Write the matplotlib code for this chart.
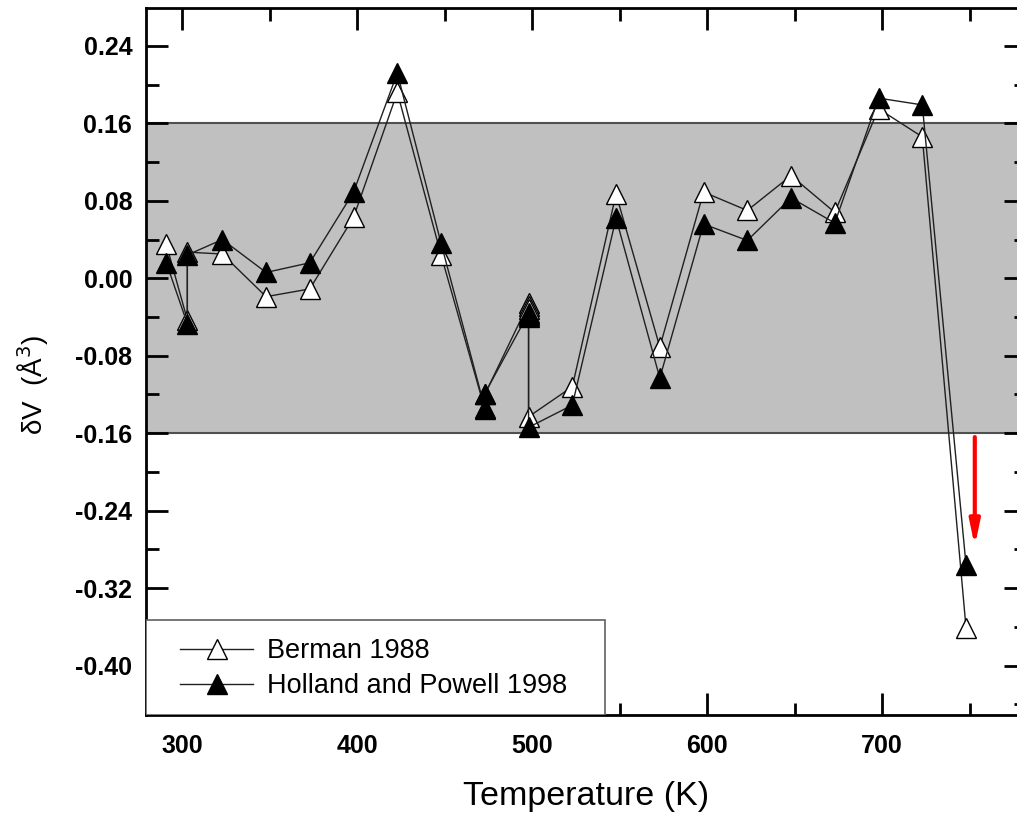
import numpy as np
import matplotlib.pyplot as plt
from matplotlib.patches import Rectangle

plt.rcParams['font.family'] = ['Liberation Sans', 'DejaVu Sans']
plt.rcParams['axes.unicode_minus'] = False

# temperatures (K), repeated where several runs were taken
temperature = [291, 303, 303, 323, 348, 373, 398, 423, 448, 473, 473,
               498, 498, 498, 498, 523, 548, 573, 598, 623, 648, 673,
               698, 723, 748]

# delta V (A^3)
berman = [0.035, -0.043, 0.027, 0.025, -0.019, -0.011, 0.063, 0.192,
          0.024, -0.135, -0.120, -0.026, -0.029, -0.032, -0.143, -0.112,
          0.087, -0.071, 0.089, 0.070, 0.106, 0.068, 0.175, 0.146, -0.361]
holland = [0.016, -0.047, 0.024, 0.040, 0.006, 0.016, 0.089, 0.212,
           0.036, -0.134, -0.119, -0.036, -0.038, -0.040, -0.154, -0.131,
           0.062, -0.103, 0.056, 0.039, 0.083, 0.057, 0.186, 0.179, -0.296]

# uncertainty band and arrow
band_lo, band_hi = -0.16, 0.16
arrow_T = 753
arrow_from, arrow_to = -0.164, -0.277

fig = plt.figure(figsize=(10.17, 8.13), dpi=100)
ax = fig.add_axes([0.1436, 0.1205, 0.8653, 0.8696])

ax.axhspan(band_lo, band_hi, color='#c0c0c0', lw=0, zorder=0)
ax.axhline(band_lo, color='#505050', lw=1.5, zorder=1)
ax.axhline(band_hi, color='#505050', lw=1.5, zorder=1)

ax.plot(temperature, berman, '-^', color='#202020', lw=1,
        ms=14, mfc='white', mec='black', mew=1, label='Berman 1988', zorder=3)
ax.plot(temperature, holland, '-^', color='#202020', lw=1,
        ms=14, mfc='black', mec='black', mew=1,
        label='Holland and Powell 1998', zorder=4)

ax.annotate('', xy=(arrow_T, arrow_to), xytext=(arrow_T, arrow_from),
            arrowprops=dict(arrowstyle='-|>,head_width=0.25,head_length=1.2',
                            color='red', lw=3, mutation_scale=12,
                            shrinkA=0, shrinkB=0), zorder=5)

ax.set_xlim(279.4, 782.3)
ax.set_ylim(-0.451, 0.279)
ax.set_xticks([300, 400, 500, 600, 700])
ax.set_xticks(np.arange(300, 781, 50), minor=True)
ax.set_yticks(np.arange(-0.40, 0.25, 0.08))
ax.set_yticks(np.arange(-0.44, 0.27, 0.04), minor=True)
ax.yaxis.set_major_formatter(plt.FormatStrFormatter('%.2f'))

for s in ax.spines.values():
    s.set_linewidth(2)
ax.tick_params(which='both', direction='in', top=True, right=True, width=2)
ax.tick_params(which='major', length=16)
ax.tick_params(which='minor', length=9)
ax.tick_params(axis='y', labelsize=18, pad=10)
ax.tick_params(axis='x', labelsize=18, pad=14)
for lab in ax.get_xticklabels() + ax.get_yticklabels():
    lab.set_fontweight('bold')

ax.set_xlabel('Temperature (K)', fontsize=24.5, labelpad=16)
ax.set_ylabel('δV  (Å$^3$)', fontsize=20)
ax.yaxis.set_label_coords(-0.108, 0.467)

# legend box, wider than its entries as in the original
ax.add_patch(Rectangle((0, 0), 0.5216, 0.134, transform=ax.transAxes,
                       facecolor='white', edgecolor='#606060', lw=1.2,
                       zorder=6))
leg = ax.legend(loc='lower left', bbox_to_anchor=(0.039, 0.022),
                borderaxespad=0, borderpad=0, frameon=False,
                fontsize=19.5, handlelength=2.7, labelspacing=0.35,
                handletextpad=0.5)
leg.set_zorder(7)

fig.savefig('out.png', dpi=100)
